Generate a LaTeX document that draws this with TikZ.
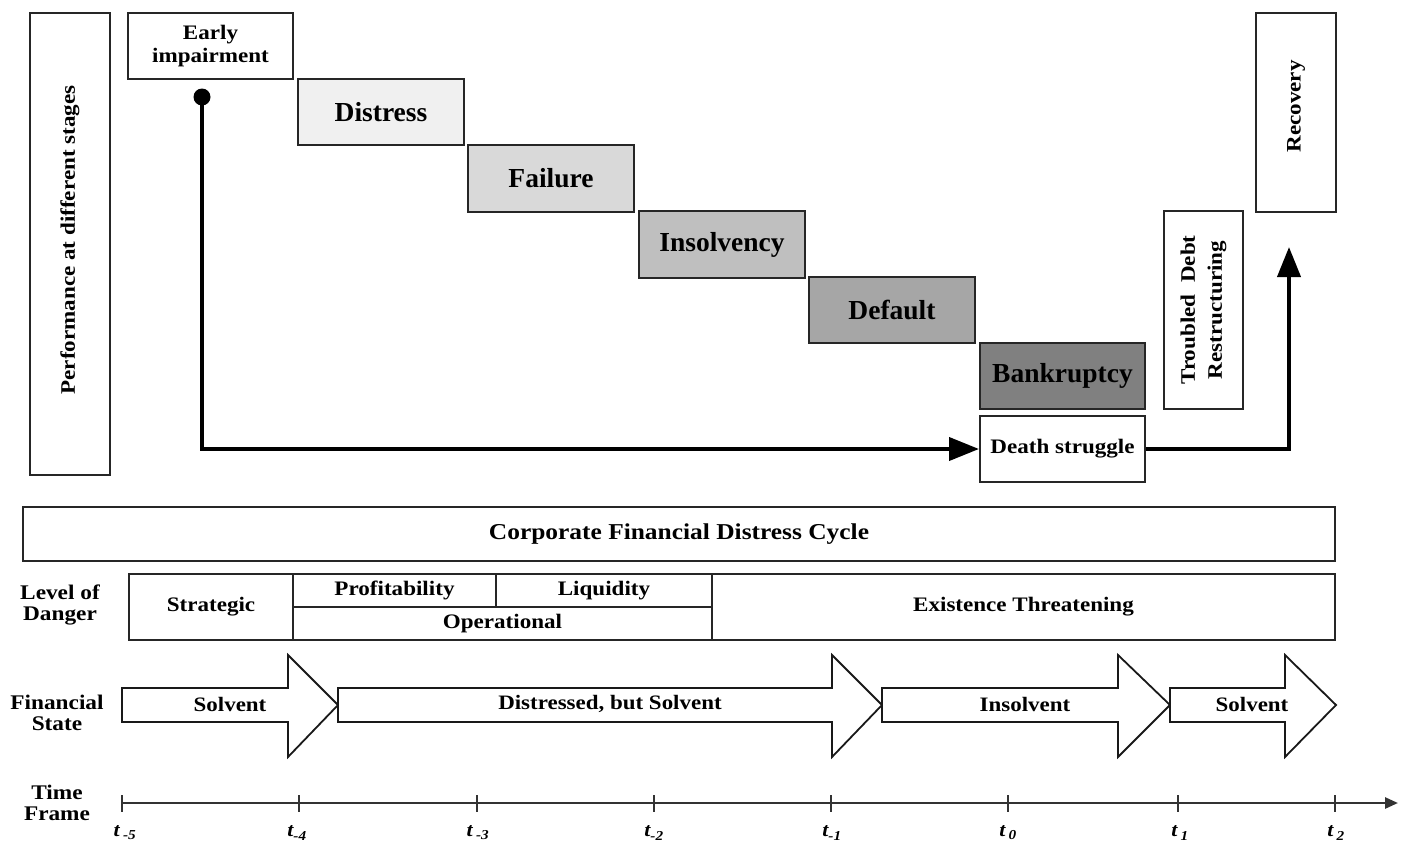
\documentclass[tikz,border=0pt]{standalone}
\usepackage{fontspec}
\setmainfont{Liberation Serif}[FakeStretch=1.12]
\newfontfamily\stagefont{Liberation Serif}
\usetikzlibrary{arrows.meta}
\begin{document}
\begin{tikzpicture}[x=1pt,y=-1pt,
  box/.style={draw=black!85, line width=2pt, inner sep=0pt, align=center, font=\bfseries\fontsize{20.6}{23}\selectfont},
  stage/.style={box, font=\stagefont\bfseries\fontsize{27.5}{30}\selectfont},
  lvl/.style={box, font=\bfseries\fontsize{20.6}{22}\selectfont},
  side/.style={inner sep=0pt, align=center, font=\bfseries\fontsize{20.8}{21.5}\selectfont},
  farrow/.style={draw=black!90, line width=1.8pt, fill=white, line join=miter},
  flabel/.style={inner sep=0pt, font=\bfseries\fontsize{20.5}{22}\selectfont},
  conn/.style={line width=4pt, -{Triangle[length=30pt,width=23pt]}},
  tlabel/.style={inner sep=0pt, font=\bfseries\itshape\fontsize{19.5}{21}\selectfont},
]
\useasboundingbox (0,0) rectangle (1409,844);

% upper stages
\node[box, minimum width=462pt, minimum height=80pt, rotate=90] (perf) at (70,244) {\hspace*{8pt}Performance at different stages};
\node[box, minimum width=165pt, minimum height=66pt] (early) at (210.5,46) {Early\\impairment};
\node[stage, fill=black!6, minimum width=166pt, minimum height=66pt] (distress) at (381,112) {Distress};
\node[stage, fill=black!15, minimum width=166pt, minimum height=67pt] (failure) at (551,178.5) {Failure};
\node[stage, fill=black!25, minimum width=166pt, minimum height=67pt] (insolv) at (722,244.5) {Insolvency};
\node[stage, fill=black!35, minimum width=166pt, minimum height=66pt] (default) at (892,310) {Default};
\node[stage, fill=black!50, minimum width=165pt, minimum height=66pt] (bankr) at (1062.5,376) {Bankruptcy};
\node[box, minimum width=165pt, minimum height=66pt] (death) at (1062.5,449) {Death struggle};
\node[box, minimum width=198pt, minimum height=79pt, rotate=90, font=\bfseries\fontsize{20.6}{27}\selectfont] (tdr) at (1203.5,310) {Troubled\ \ Debt\\Restructuring};
\node[box, minimum width=199pt, minimum height=80pt, rotate=90] (recov) at (1296,112.5) {\hspace*{12pt}Recovery};

% connectors
\coordinate (dot) at (202,97);
\coordinate (recpt) at (1289,247);
\fill (dot) circle (8.5);
\draw[conn] (dot) |- (death.west);
\draw[conn] (death.east) -| (recpt);

% cycle bar
\node[box, font=\bfseries\fontsize{22.7}{24}\selectfont, minimum width=1312pt, minimum height=54pt] (cycle) at (679,534) {Corporate Financial Distress Cycle};

% level of danger
\node[side] (lod) at (60,605) {Level of\\Danger};
\node[lvl, minimum width=164pt, minimum height=66pt] (strat) at (211,607) {Strategic};
\node[lvl, minimum width=203pt, minimum height=33pt] (profit) at (394.5,590.5) {Profitability};
\node[lvl, minimum width=216pt, minimum height=33pt] (liquid) at (604,590.5) {Liquidity};
\node[lvl, minimum width=419pt, minimum height=33pt] (oper) at (502.5,623.5) {Operational};
\node[lvl, minimum width=623pt, minimum height=66pt] (exist) at (1023.5,607) {Existence Threatening};

% financial state
\node[side] (fs) at (57,713) {Financial\\State};
\draw[farrow] (122,688) -- (288,688) -- (288,655) -- (338,705) -- (288,757) -- (288,722) -- (122,722) -- cycle;
\draw[farrow] (338,688) -- (832,688) -- (832,655) -- (882,705) -- (832,757) -- (832,722) -- (338,722) -- cycle;
\draw[farrow] (882,688) -- (1118,688) -- (1118,655) -- (1170,705) -- (1118,757) -- (1118,722) -- (882,722) -- cycle;
\draw[farrow] (1170,688) -- (1285,688) -- (1285,655) -- (1336,705) -- (1285,757) -- (1285,722) -- (1170,722) -- cycle;
\node[flabel] (fs1) at (230,704) {Solvent};
\node[flabel] (fs2) at (610,704) {Distressed, but Solvent};
\node[flabel] (fs3) at (1025,704) {Insolvent};
\node[flabel] (fs4) at (1252,704) {Solvent};

% time frame
\node[side] (tf) at (57,803) {Time\\Frame};
\coordinate (tlstart) at (122,803);
\coordinate (tlend) at (1398,803);
\draw[line width=2.6pt, black!80, -{Triangle[length=13pt,width=11pt]}] (tlstart) -- (tlend);
\foreach \x in {122, 299, 477, 654, 831, 1008, 1178, 1335}{
  \draw[line width=1.5pt, black!80] (\x,795) -- (\x,812);
}
\node[tlabel] (ta) at (125,833) {t\,\textsubscript{-5}};
\node[tlabel] (tb) at (297,833) {t\textsubscript{-4}};
\node[tlabel] (tc) at (478,833) {t\,\textsubscript{-3}};
\node[tlabel] (td) at (654,833) {t\textsubscript{-2}};
\node[tlabel] (te) at (832,833) {t\textsubscript{-1}};
\node[tlabel] (tf0) at (1008,833) {t\,\textsubscript{0}};
\node[tlabel] (tg) at (1180,833) {t\,\textsubscript{1}};
\node[tlabel] (th) at (1336,833) {t\,\textsubscript{2}};
\end{tikzpicture}
\end{document}
